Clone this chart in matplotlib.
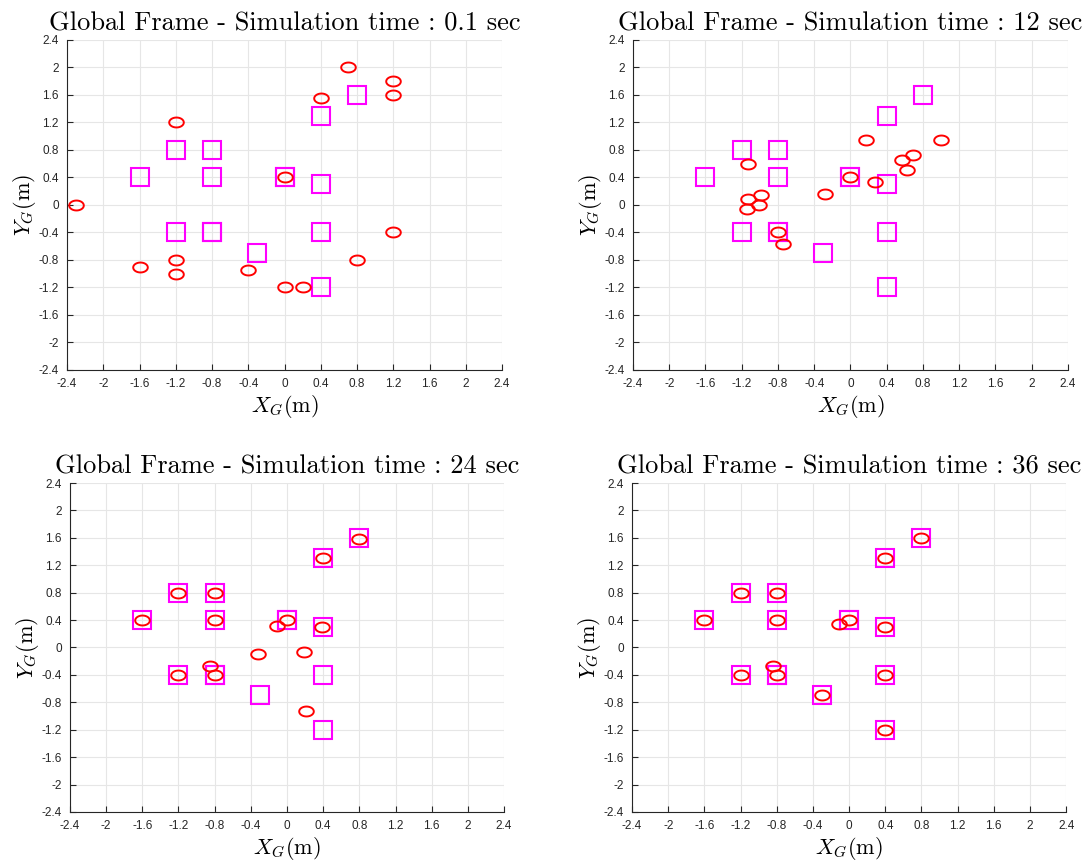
import numpy as np
import matplotlib.pyplot as plt
from matplotlib.path import Path

plt.rcParams['mathtext.fontset'] = 'cm'
plt.rcParams['font.family'] = ['Liberation Sans', 'DejaVu Sans']

# target positions (same in every snapshot, two targets are shared)
target_x = [-1.6, -1.2, -0.8, -0.8, 0.0, 0.0, 0.4, 0.8, 0.4, -1.2, -0.8, -0.8, -0.3, 0.4, 0.4]
target_y = [0.4, 0.8, 0.8, 0.4, 0.4, 0.4, 1.3, 1.6, 0.3, -0.4, -0.4, -0.4, -0.7, -0.4, -1.2]

# robot positions at each snapshot
times = ['0.1', '12', '24', '36']

robot_x_01 = [-2.3, -1.6, -1.2, -1.2, -1.2, -0.4, 0.0, 0.0, 0.2, 0.4, 0.7, 1.2, 1.2, 1.2, 0.8]
robot_y_01 = [0.0, -0.9, -0.8, -1.0, 1.2, -0.95, 0.4, -1.2, -1.2, 1.55, 2.0, 1.8, 1.6, -0.4, -0.8]

robot_x_12 = [-1.13, -1.13, -0.99, -1.01, -1.14, -0.8, -0.75, -0.28, 0.0, 0.17, 0.27, 0.57, 0.62, 0.69, 1.0]
robot_y_12 = [0.6, 0.09, 0.15, 0.0, -0.06, -0.39, -0.57, 0.16, 0.4, 0.94, 0.33, 0.65, 0.51, 0.73, 0.95]

robot_x_24 = [-1.6, -1.2, -0.8, -0.8, 0.0, -0.11, 0.4, 0.8, 0.39, -1.2, -0.8, -0.85, -0.32, 0.19, 0.21]
robot_y_24 = [0.4, 0.8, 0.8, 0.4, 0.4, 0.32, 1.3, 1.59, 0.3, -0.4, -0.4, -0.27, -0.1, -0.06, -0.93]

robot_x_36 = [-1.6, -1.2, -0.8, -0.8, 0.0, -0.11, 0.4, 0.8, 0.4, -1.2, -0.8, -0.84, -0.3, 0.4, 0.4]
robot_y_36 = [0.4, 0.8, 0.8, 0.4, 0.4, 0.34, 1.3, 1.6, 0.3, -0.4, -0.4, -0.27, -0.7, -0.4, -1.2]

robot_x = [robot_x_01, robot_x_12, robot_x_24, robot_x_36]
robot_y = [robot_y_01, robot_y_12, robot_y_24, robot_y_36]

ticks = np.arange(-2.4, 2.41, 0.4)
tick_labels = ['-2.4', '-2', '-1.6', '-1.2', '-0.8', '-0.4', '0', '0.4', '0.8', '1.2', '1.6', '2', '2.4']

# flattened circle marker for the robots
t = np.linspace(0, 2 * np.pi, 60)
ellipse = Path(np.column_stack([np.cos(t), 0.68 * np.sin(t)]), closed=True)

fig = plt.figure(figsize=(10.88, 8.65), dpi=100)
boxes = [
    [0.0616, 0.5723, 0.3998, 0.3815],
    [0.5818, 0.5723, 0.3998, 0.3815],
    [0.0643, 0.0613, 0.3990, 0.3803],
    [0.5809, 0.0613, 0.3990, 0.3803],
]

for i, box in enumerate(boxes):
    ax = fig.add_axes(box)
    ax.plot(target_x, target_y, linestyle='none', marker='s', markersize=13,
            markerfacecolor='none', markeredgecolor='#ff00ff', markeredgewidth=1.5)
    ax.plot(robot_x[i], robot_y[i], linestyle='none', marker=ellipse, markersize=10.5,
            markerfacecolor='none', markeredgecolor='#ff0000', markeredgewidth=1.4)

    ax.set_xlim(-2.4, 2.4)
    ax.set_ylim(-2.4, 2.4)
    ax.set_xticks(ticks)
    ax.set_yticks(ticks)
    ax.set_xticklabels(tick_labels)
    ax.set_yticklabels(tick_labels)
    ax.tick_params(direction='in', length=4, width=0.8, colors='#262626',
                   labelsize=8.5, pad=6)
    ax.grid(True, color='#e6e6e6', linewidth=0.8)
    ax.set_axisbelow(True)
    for side in ['top', 'right']:
        ax.spines[side].set_visible(False)
    for side in ['left', 'bottom']:
        ax.spines[side].set_color('#262626')
        ax.spines[side].set_linewidth(0.8)

    ax.set_title('Global Frame - Simulation time : ' + times[i] + ' sec',
                 family='cmr10', fontsize=19, pad=7)
    ax.set_xlabel(r'$X_G(\mathrm{m})$', fontsize=16, labelpad=2)
    ax.set_ylabel(r'$Y_G(\mathrm{m})$', fontsize=16, labelpad=0)

fig.savefig('out.png', dpi=100)
